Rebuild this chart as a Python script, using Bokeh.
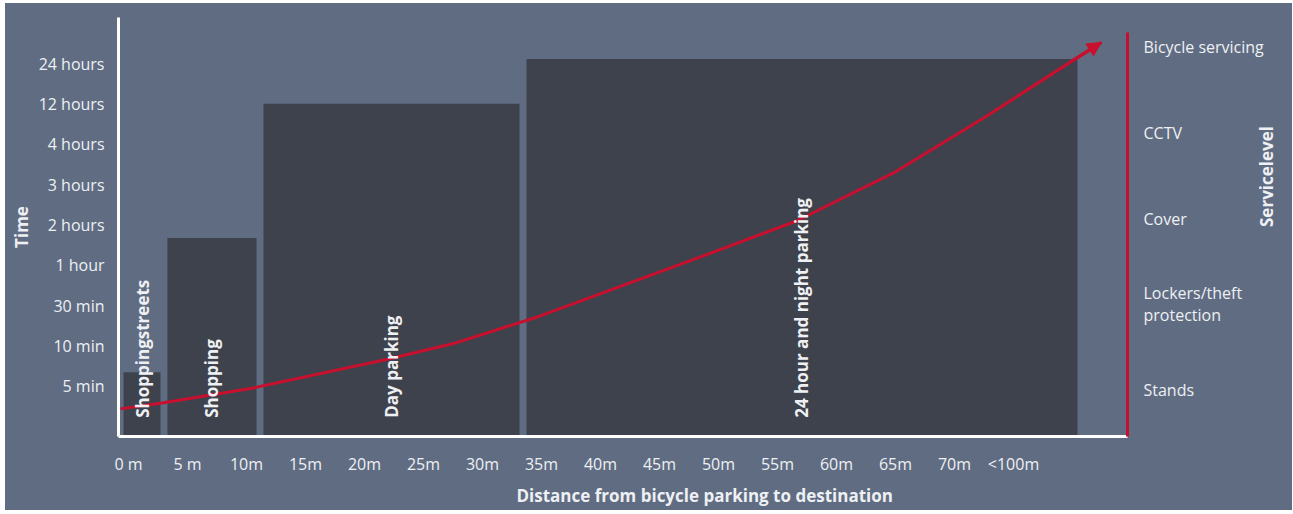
from math import pi
from bokeh.plotting import figure
from bokeh.models import (Range1d, LinearAxis, FixedTicker, Arrow, NormalHead,
                          ColumnDataSource, Title)
from bokeh.core.properties import value
from bokeh.embed import file_html
from bokeh.resources import INLINE

# ---------------- data ----------------
x_ticks = [0, 5, 10, 15, 20, 25, 30, 35, 40, 45, 50, 55, 60, 65, 70, 75]
x_tick_labels = ["0 m", "5 m", "10m", "15m", "20m", "25m", "30m", "35m", "40m",
                 "45m", "50m", "55m", "60m", "65m", "70m", "<100m"]

time_levels = [1, 2, 3, 4, 5, 6, 7, 8, 9]
time_labels = ["5 min", "10 min", "30 min", "1 hour", "2 hours", "3 hours",
               "4 hours", "12 hours", "24 hours"]

service_levels = [1, 2, 3, 4, 5]
service_labels = ["Stands", "Lockers/theft\nprotection", "Cover", "CCTV", "Bicycle servicing"]

zones = ["Shoppingstreets", "Shopping", "Day parking", "24 hour and night parking"]
zone_start = [-0.42, 3.3, 11.44, 33.73]
zone_end = [2.71, 10.85, 33.14, 80.42]
zone_time = [1.35, 4.68, 8.01, 9.12]

curve_dist = [-0.68, 2.97, 10.59, 21.95, 27.54, 34.66, 48.31, 56.61, 65.0, 72.71, 80.08, 82.46]
curve_level = [0.44, 0.59, 0.96, 1.67, 2.06, 2.72, 4.19, 5.10, 6.32, 7.70, 9.09, 9.53]

# ---------------- style ----------------
BG = "#5f6c82"
BAR = "#3e424c"
RED = "#c8102e"
TXT = "#eef0f3"
FONT = "Open Sans"

x_start, x_end = -0.847, 84.66
y_start, y_end = -0.245, 10.147

W, H = 1287, 507
p = figure(width=W, height=H, output_backend="svg", toolbar_location=None,
           x_range=Range1d(x_start, x_end), y_range=Range1d(y_start, y_end),
           min_border_left=113, min_border_right=165, min_border_top=14, min_border_bottom=69,
           background_fill_color=BG, border_fill_color=BG, outline_line_color=None)
p.margin = (3, 0, 3, 5)
p.styles = {"background-color": BG}
p.extra_y_ranges = {"service": Range1d(0.458, 5.346)}
p.grid.visible = False

# bars
src = ColumnDataSource(dict(
    left=zone_start, right=zone_end, top=zone_time,
    bottom=[y_start] * len(zones),
    cx=[(a + b) / 2 for a, b in zip(zone_start, zone_end)],
    name=zones,
))
p.quad(left="left", right="right", top="top", bottom="bottom", source=src,
       fill_color=BAR, line_color=None)

# curve with arrow
p.line(curve_dist, curve_level, line_color=RED, line_width=3)
p.add_layout(Arrow(end=NormalHead(size=14, fill_color=RED, line_color=RED),
                   x_start=curve_dist[-2], y_start=curve_level[-2],
                   x_end=curve_dist[-1], y_end=curve_level[-1],
                   line_color=RED, line_width=3))

# zone labels (vertical)
p.text(x="cx", y=0.22, text="name", source=src, angle=pi / 2,
       text_align="left", text_baseline="middle", text_color=TXT,
       text_font=value(FONT), text_font_style="bold", text_font_size="17px")

# axes
for ax in (p.xaxis[0], p.yaxis[0]):
    ax.axis_line_color = "white"
    ax.axis_line_width = 3
    ax.major_tick_line_color = None
    ax.minor_tick_line_color = None
    ax.major_label_text_color = TXT
    ax.major_label_text_font = FONT
    ax.major_label_text_font_size = "16px"

p.xaxis[0].ticker = FixedTicker(ticks=x_ticks)
p.xaxis[0].major_label_overrides = {t: l for t, l in zip(x_ticks, x_tick_labels)}
p.xaxis[0].major_label_standoff = 10

p.yaxis[0].ticker = FixedTicker(ticks=time_levels)
p.yaxis[0].major_label_overrides = {t: l for t, l in zip(time_levels, time_labels)}
p.yaxis[0].major_label_standoff = 8
p.yaxis[0].axis_label = "Time"
p.yaxis[0].axis_label_standoff = 3
p.yaxis[0].axis_label_text_color = TXT
p.yaxis[0].axis_label_text_font = FONT
p.yaxis[0].axis_label_text_font_style = "bold"
p.yaxis[0].axis_label_text_font_size = "17px"

right = LinearAxis(y_range_name="service", ticker=FixedTicker(ticks=service_levels),
                   bounds=(0.458, 5.173))
right.major_label_overrides = {t: l for t, l in zip(service_levels, service_labels)}
right.axis_line_color = RED
right.axis_line_width = 3
right.major_tick_line_color = None
right.minor_tick_line_color = None
right.major_label_text_color = TXT
right.major_label_text_font = FONT
right.major_label_text_font_size = "16px"
right.major_label_text_line_height = 1.0
right.major_label_standoff = 10
p.add_layout(right, "right")

# right-hand title "Servicelevel", reading bottom-to-top, on a bare outer axis
if "axis_label_orientation" in LinearAxis.properties():
    title_ax = LinearAxis(y_range_name="service", ticker=FixedTicker(ticks=[]),
                          bounds=(0.458, 3.686))
    title_ax.axis_line_color = None
    title_ax.major_tick_line_color = None
    title_ax.minor_tick_line_color = None
    title_ax.major_tick_out = 0
    title_ax.minor_tick_out = 0
    title_ax.major_label_standoff = 0
    title_ax.axis_label = "Servicelevel"
    title_ax.axis_label_orientation = pi / 2
    title_ax.axis_label_standoff = 0
    title_ax.axis_label_text_color = TXT
    title_ax.axis_label_text_font = FONT
    title_ax.axis_label_text_font_style = "bold"
    title_ax.axis_label_text_font_size = "17px"
    p.add_layout(title_ax, "right")
else:
    p.add_layout(Title(text="Servicelevel", align="center", standoff=0,
                       text_color=TXT, text_font=FONT, text_font_style="bold",
                       text_font_size="17px"), "right")

# x title below, shifted to the right as in the reference
p.add_layout(Title(text="Distance from bicycle parking to destination", align="left",
                   offset=398, standoff=8, text_color=TXT, text_font=FONT,
                   text_font_style="bold", text_font_size="17px"), "below")

open("out.html", "w").write(file_html(p, INLINE))
